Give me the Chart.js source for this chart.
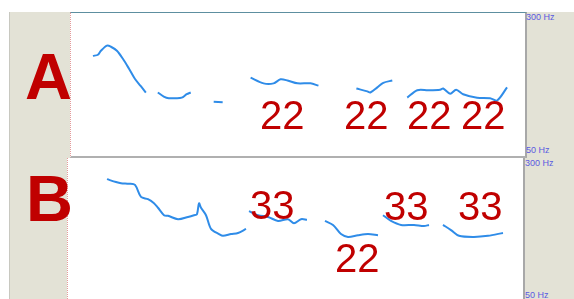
<!DOCTYPE html>
<html>
<head>
<meta charset="utf-8">
<script src="https://cdn.jsdelivr.net/npm/chart.js@4"></script>
<style>
  html, body { margin: 0; padding: 0; background: #ffffff; }
  #wrap { position: relative; width: 574px; height: 299px; overflow: hidden; font-family: "Liberation Sans", Arial, sans-serif; }
  .strip { position: absolute; background: #e3e2d6; }
  .panel { position: absolute; background: #ffffff; }
  .panel canvas { position: absolute; left: 0; top: 0; }
  .big { position: absolute; color: #c00000; font-weight: bold; line-height: 1; }
  .num { position: absolute; color: #c00000; font-size: 40px; line-height: 1; }
  .hz { position: absolute; color: #5a5ae0; font-size: 9px; line-height: 9px; }
</style>
</head>
<body>
<div id="wrap">
  <!-- grey side strips -->
  <div class="strip" style="left:9px; top:12px; width:61px; height:287px; border-left:1px solid #c8c8c0;"></div>
  <div class="strip" style="left:524px; top:12px; width:50px; height:287px;"></div>

  <!-- panel A -->
  <div class="panel" style="left:70px; top:12px; width:454px; height:143px; border-top:1px solid #5d8fa0; border-right:2px solid #a8a8a8; border-bottom:2px solid #b0b0b0; border-left:1px dotted #e49a9a;">
    <canvas id="chartA" width="454" height="143"></canvas>
  </div>
  <!-- panel B -->
  <div class="panel" style="left:67px; top:158px; width:455px; height:145px; border-right:2px solid #a8a8a8; border-left:1px dotted #e49a9a;">
    <canvas id="chartB" width="455" height="143"></canvas>
  </div>

  <div class="big" style="left:25px; top:44px; font-size:65px;">A</div>
  <div class="big" style="left:26px; top:166px; font-size:65px;">B</div>

  <div class="num" style="left:260px; top:95px;">22</div>
  <div class="num" style="left:344px; top:95px;">22</div>
  <div class="num" style="left:407px; top:95px;">22</div>
  <div class="num" style="left:461px; top:95px;">22</div>

  <div class="num" style="left:250px; top:185px;">33</div>
  <div class="num" style="left:335px; top:238px;">22</div>
  <div class="num" style="left:384px; top:186px;">33</div>
  <div class="num" style="left:458px; top:186px;">33</div>

  <div class="hz" style="left:526px; top:13px;">300 Hz</div>
  <div class="hz" style="left:526px; top:146px;">50 Hz</div>
  <div class="hz" style="left:525px; top:159px;">300 Hz</div>
  <div class="hz" style="left:525px; top:291px;">50 Hz</div>
</div>

<script>
// pitch track A: time (ms) and F0 (Hz), null = unvoiced gap
const timesA = [88, 108, 120, 144, 160, 184, 208, 232, 256, 280, 300, 324,
                348, 372, 392, 420, 444, 464, 480, 520,
                572, 608, 660,
                720, 772, 812, 840, 868, 908, 960, 992, 1060,
                1144, 1188, 1200, 1228, 1252, 1288, 1320,
                1348, 1388, 1432, 1480, 1492, 1520, 1544, 1572, 1628, 1680, 1708, 1748];
const hzA = [225, 227, 234, 243, 241, 234, 220, 203, 185, 172, 161, null,
             161, 154, 151, 151, 152, 158, 161, null,
             145, 144, null,
             187, 177, 177, 184, 182, 177, 177, 173, null,
             168, 163, 161, 170, 178, 182, null,
             152, 165, 165, 166, 168, 159, 166, 158, 152, 151, 147, 170];

// pitch track B
const timesB = [156, 192, 212, 244, 268, 292, 320, 344, 360, 384, 400, 440, 480, 504, 516, 524, 532, 552, 572, 604, 620, 652, 680, 712, 718,
                724, 760, 800, 840, 880, 904, 932, 956, 990,
                1028, 1060, 1092, 1120, 1160, 1200, 1240, 1250,
                1260, 1292, 1332, 1384, 1424, 1444, 1470,
                1500, 1532, 1564, 1624, 1680, 1740];
const hzB = [263, 258, 256, 255, 253, 232, 228, 221, 213, 200, 199, 193, 197, 200, 202, 221, 213, 200, 176, 167, 164, 167, 169, 176, null,
             207, 200, 197, 190, 193, 186, 193, 192, null,
             190, 183, 167, 162, 165, 167, 165, null,
             200, 190, 183, 183, 181, 183, null,
             183, 174, 164, 162, 164, 169];

const hzMin = 50;
const hzMax = 300;
const durationMs = 1820;

function makeTrack(canvasId, times, hz) {
    const points = times.map(function(t, i) {
        return { x: t, y: hz[i] };
    });
    return new Chart(document.getElementById(canvasId).getContext('2d'), {
        type: 'line',
        data: {
            datasets: [{
                data: points,
                borderColor: '#2f8ce8',
                borderWidth: 2,
                pointRadius: 0,
                tension: 0.3,
                spanGaps: false,
                fill: false
            }]
        },
        options: {
            responsive: false,
            animation: false,
            layout: { padding: 0 },
            plugins: {
                legend: { display: false },
                tooltip: { enabled: false }
            },
            scales: {
                x: { type: 'linear', min: 0, max: durationMs, display: false },
                y: { type: 'linear', min: hzMin, max: hzMax, display: false }
            }
        }
    });
}

makeTrack('chartA', timesA, hzA);
makeTrack('chartB', timesB, hzB);
</script>
</body>
</html>
